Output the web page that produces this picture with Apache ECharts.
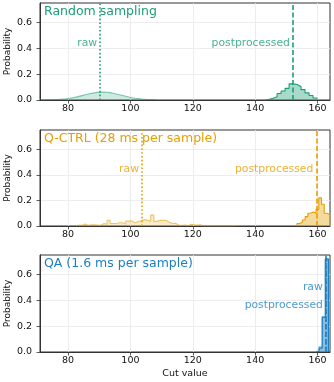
<!DOCTYPE html>
<html><head><meta charset="utf-8">
<script src="https://cdn.jsdelivr.net/npm/echarts@6/dist/echarts.min.js"></script>
<style>html,body{margin:0;padding:0;background:#fff}#c{width:334px;height:382px}</style>
</head><body><div id="c"></div>
<script>
// ---------- data ----------
const xTicks = [80, 100, 120, 140, 160];
const yTicks = [0, 0.2, 0.4, 0.6];
const panelTitles = ['Random sampling', 'Q-CTRL (28 ms per sample)', 'QA (1.6 ms per sample)'];
const rawLabel = 'raw';
const postLabel = 'postprocessed';
const xLabel = 'Cut value';
const yLabel = 'Probability';

// histograms: left edge of first bin, bin width, probability per bin
const randomRawStart = 71.5, randomRawWidth = 1;
const randomRaw = [0.001,0.002,0.002,0.003,0.004,0.006,0.008,0.010,0.014,0.018,0.022,0.028,0.034,0.040,0.046,0.051,0.055,0.059,0.061,0.062,0.060,0.057,0.052,0.047,0.041,0.035,0.029,0.023,0.018,0.014,0.011,0.008,0.006,0.004,0.003,0.002,0.001];
const randomPostStart = 143.2, randomPostWidth = 1.28;
const randomPost = [0.005,0.013,0.025,0.05,0.07,0.09,0.125,0.12,0.105,0.08,0.055,0.035,0.015];

const qctrlRawStart = 82.5, qctrlRawWidth = 1;
const qctrlRaw = [0.008,0.006,0.015,0.005,0.010,0.010,0.008,0.006,0.020,0.013,0.045,0.020,0.020,0.026,0.025,0.015,0.038,0.040,0.025,0.035,0.040,0.050,0.044,0.038,0.085,0.036,0.044,0.045,0.044,0.030,0.020,0.022,0.008,0.005,0.008,0.002,0.013,0.010,0.008,0.010,0,0,0,0,0,0,0,0,0,0,0,0.004];
const qctrlPostStart = 153.4, qctrlPostWidth = 0.875;
const qctrlPost = [0.02,0.03,0.047,0.073,0.10,0.11,0.10,0.13,0.22,0.17,0.10,0.09];

const qaRawStart = 159.5, qaRawWidth = 1;
const qaRaw = [0.01,0.04,0.27,0.71];
const qaPostStart = 159.5, qaPostWidth = 1;
const qaPost = [0.005,0.03,0.27,0.72];

// mean cut values (vertical lines)
const rawMeans = [90.3, 103.7, 162.65];
const postMeans = [152.1, 159.6, 162.7];
// vertical placement of the "raw" / "postprocessed" labels (probability units)
const rawLabelY = [0.44, 0.44, 0.5];
const postLabelY = [0.44, 0.44, 0.365];

// ---------- styling ----------
const colors = ['#1b9e77', '#e69f00', '#1f80c0'];
const FONT = 'DejaVu Sans';
const grids = [
  {left: 40, width: 290, top: 3, height: 97},
  {left: 40, width: 290, top: 130, height: 96},
  {left: 40, width: 290, top: 255, height: 97}
];
const titleY = [12, 138.5, 264];

function rgba(hex, a) {
  const n = parseInt(hex.slice(1), 16);
  return 'rgba(' + (n >> 16) + ',' + ((n >> 8) & 255) + ',' + (n & 255) + ',' + a + ')';
}
function stepData(start, width, vals) {
  const pts = [[start, 0]];
  vals.forEach((v, i) => pts.push([start + i * width, v]));
  pts.push([start + vals.length * width, 0]);
  return pts;
}
const hists = [
  [[randomRawStart, randomRawWidth, randomRaw], [randomPostStart, randomPostWidth, randomPost]],
  [[qctrlRawStart, qctrlRawWidth, qctrlRaw], [qctrlPostStart, qctrlPostWidth, qctrlPost]],
  [[qaRawStart, qaRawWidth, qaRaw], [qaPostStart, qaPostWidth, qaPost]]
];

const xAxes = [], yAxes = [], series = [], graphics = [];
for (let i = 0; i < 3; i++) {
  const c = colors[i];
  xAxes.push({
    gridIndex: i, type: 'value', min: 71, max: 164,
    axisLine: {show: true, onZero: false, lineStyle: {color: '#333', width: 1}},
    axisTick: {show: true, length: 3.5, customValues: xTicks, lineStyle: {color: '#333', width: 0.8}},
    axisLabel: {customValues: xTicks, fontSize: 9.5, color: '#111', margin: 4, fontFamily: FONT},
    splitLine: {show: true, lineStyle: {color: '#e8e8e8', width: 0.8}},
    name: i === 2 ? xLabel : '', nameLocation: 'middle', nameGap: 17, nameMoveOverlap: false,
    nameTextStyle: {fontSize: 9.5, color: '#111', fontFamily: FONT}
  });
  yAxes.push({
    gridIndex: i, type: 'value', min: 0, max: 0.75,
    axisLine: {show: true, lineStyle: {color: '#333', width: 1}},
    axisTick: {show: true, length: 3.5, customValues: yTicks, lineStyle: {color: '#333', width: 0.8}},
    axisLabel: {customValues: yTicks, fontSize: 9.5, color: '#111', margin: 8, fontFamily: FONT,
      formatter: v => v.toFixed(1)},
    splitLine: {show: true, lineStyle: {color: '#e8e8e8', width: 0.8}},
    name: yLabel, nameLocation: 'middle', nameGap: 28, nameMoveOverlap: false,
    nameTextStyle: {fontSize: 9, color: '#111', fontFamily: FONT}
  });
  const [raw, post] = hists[i];
  series.push({
    type: 'line', xAxisIndex: i, yAxisIndex: i, step: 'end', symbol: 'none', silent: true,
    data: stepData(raw[0], raw[1], raw[2]), z: 2,
    lineStyle: {color: rgba(c, 0.55), width: 1.1},
    areaStyle: {color: rgba(c, 0.3), origin: 'start'},
    markLine: {silent: true, symbol: 'none', label: {show: false}, z: 6,
      lineStyle: {color: c, type: [1.6, 2.2], width: 1.6}, data: [{xAxis: rawMeans[i]}]}
  });
  series.push({
    type: 'line', xAxisIndex: i, yAxisIndex: i, step: 'end', symbol: 'none', silent: true,
    data: stepData(post[0], post[1], post[2]), z: 3,
    lineStyle: {color: c, width: 1.1},
    areaStyle: {color: rgba(c, 0.55), origin: 'start'},
    markLine: {silent: true, symbol: 'none', label: {show: false}, z: 6,
      lineStyle: {color: c, type: [5, 2.5], width: 1.6}, data: [{xAxis: postMeans[i]}]}
  });
  [[rawMeans[i], rawLabelY[i], rawLabel], [postMeans[i], postLabelY[i], postLabel]].forEach(d => {
    series.push({
      type: 'scatter', xAxisIndex: i, yAxisIndex: i, symbolSize: 0, silent: true, z: 7,
      data: [[d[0], d[1]]],
      label: {show: true, position: 'left', distance: 3, formatter: d[2], color: c,
        fontSize: 10.8, fontFamily: FONT}
    });
  });
  graphics.push({
    type: 'text', x: 44, y: titleY[i], z: 10,
    style: {text: panelTitles[i], fill: c, font: '12.5px "' + FONT + '"', verticalAlign: 'middle'}
  });
}

const chart = echarts.init(document.getElementById('c'), null, {renderer: 'canvas'});
chart.setOption({
  animation: false,
  backgroundColor: '#fff',
  grid: grids.map(g => Object.assign({show: true, borderColor: '#333', borderWidth: 1,
    backgroundColor: 'transparent', containLabel: false, outerBoundsMode: 'none'}, g)),
  xAxis: xAxes,
  yAxis: yAxes,
  series: series,
  graphic: graphics
});
</script></body></html>
